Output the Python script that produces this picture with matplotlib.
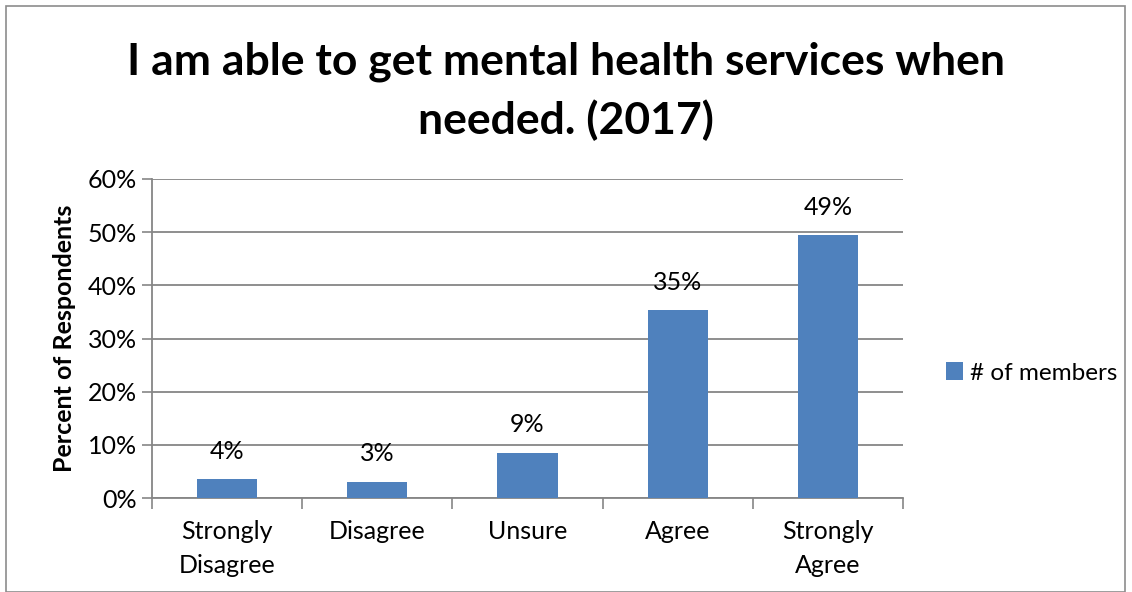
import matplotlib
matplotlib.use("Agg")
import matplotlib.pyplot as plt
from matplotlib.patches import Rectangle
from matplotlib.ticker import FuncFormatter, MultipleLocator

categories = ["Strongly\nDisagree", "Disagree", "Unsure", "Agree", "Strongly\nAgree"]
values = [3.5, 3.1, 8.5, 35.3, 49.4]
labels = ["4%", "3%", "9%", "35%", "49%"]
series_name = "# of members"
title = "I am able to get mental health services when\nneeded. (2017)"
ylabel = "Percent of Respondents"

FONT = "Lato"
BAR = "#4F81BD"
GRID = "#868686"
FS = 18

fig = plt.figure(figsize=(11.32, 5.92), dpi=100)
fig.patch.set_facecolor("white")
ax = fig.add_axes([152/1132, 1-498/592, (903-152)/1132, (498-179)/592])

x = list(range(len(categories)))
bars = ax.bar(x, values, width=0.4, color=BAR, label=series_name, zorder=3)
for xi, v, t in zip(x, values, labels):
    ax.annotate(t, (xi, v), xytext=(0, 12), textcoords="offset points",
                ha="center", va="bottom", fontsize=FS, family=FONT, color="black")

ax.set_xlim(-0.5, len(categories) - 0.5)
ax.set_ylim(0, 60)
ax.yaxis.set_major_locator(MultipleLocator(10))
ax.yaxis.set_major_formatter(FuncFormatter(lambda v, p: f"{int(v)}%"))
ax.grid(axis="y", color=GRID, linewidth=1.3, zorder=0)
ax.set_axisbelow(True)

ax.set_xticks([i - 0.5 for i in range(len(categories) + 1)], minor=False)
ax.set_xticklabels([""] * (len(categories) + 1))
ax.set_xticks(x, minor=True)
ax.set_xticklabels(categories, minor=True, fontsize=FS, family=FONT, linespacing=1.55)
ax.tick_params(axis="x", which="major", length=8, width=1.2, color=GRID, direction="out")
ax.tick_params(axis="x", which="minor", length=0, pad=16)
ax.tick_params(axis="y", length=7, width=1.2, color=GRID, direction="out", labelsize=FS, pad=4)
for lab in ax.get_yticklabels():
    lab.set_family(FONT)

for s in ["top", "right"]:
    ax.spines[s].set_visible(False)
for s in ["left", "bottom"]:
    ax.spines[s].set_color(GRID)
    ax.spines[s].set_linewidth(1.3)

ax.set_ylabel(ylabel, fontsize=FS, fontweight="bold", family=FONT, labelpad=8)

fig.text(0.5, 1 - 91/592, title, ha="center", va="center", fontsize=32,
         fontweight="bold", family=FONT, linespacing=1.5)

leg = ax.legend(loc="center left", bbox_to_anchor=(946/1132, 1 - 373/592),
                bbox_transform=fig.transFigure, frameon=False,
                prop={"family": FONT, "size": 17.5}, handlelength=0.7, handleheight=0.7,
                handletextpad=0.3, borderpad=0, borderaxespad=0)

fig.patches.append(Rectangle((6/1132, 0), (1125-6)/1132, (592-6)/592, transform=fig.transFigure,
                             fill=False, edgecolor="#8c8c8c", linewidth=1.2))

fig.savefig("out.png", dpi=100)
